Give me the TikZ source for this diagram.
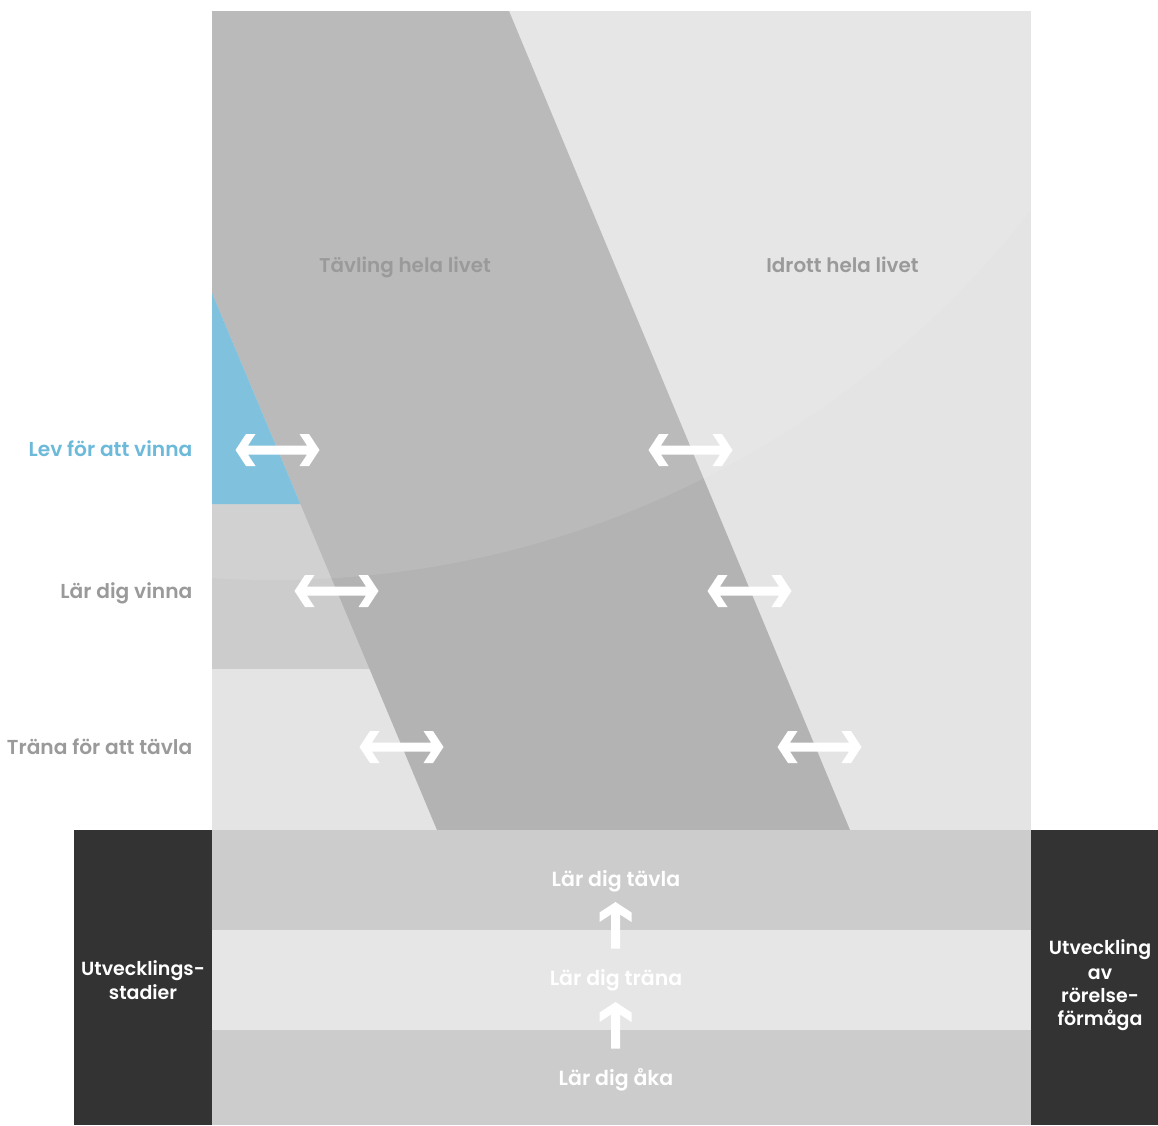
\documentclass[tikz,border=0pt]{standalone}
\usepackage{fontspec}
\setmainfont{Poppins}[UprightFont=* SemiBold, BoldFont=* Bold]

\definecolor{lightcol}{HTML}{E4E4E4}
\definecolor{greycol}{HTML}{CCCCCC}
\definecolor{bandcol}{HTML}{B3B3B3}
\definecolor{bluecol}{HTML}{80C2DE}
\definecolor{bluetext}{HTML}{6CB9DA}
\definecolor{labelgrey}{HTML}{9A9A9A}
\definecolor{rowdark}{HTML}{CCCCCC}
\definecolor{rowlight}{HTML}{E6E6E6}
\definecolor{darkbox}{HTML}{333333}

\newcommand\sidesize{\fontsize{20.2}{24}\selectfont}
\newcommand\titlesize{\fontsize{19.9}{24}\selectfont}
\newcommand\stepsize{\fontsize{20.5}{23}\selectfont}
\newcommand\boxsize{\fontsize{19}{23}\selectfont}

\begin{document}
\begin{tikzpicture}[x=1pt,y=-1pt,
  sidelabel/.style={anchor=base east, inner sep=0pt, text=labelgrey, font=\sidesize},
  titlelabel/.style={anchor=base, inner sep=0pt, text=labelgrey, font=\titlesize},
  steplabel/.style={anchor=base, inner sep=0pt, text=white, font=\stepsize},
  boxlabel/.style={anchor=base, inner sep=0pt, text=white, font=\boxsize},
  harrow/.pic={\fill[white] (-42,0) -- (-31.5,-16) -- (-22,-16) -- (-29.55,-4.5)
      -- (29.55,-4.5) -- (22,-16) -- (31.5,-16) -- (42,0) -- (31.5,16) -- (22,16)
      -- (29.55,4.5) -- (-29.55,4.5) -- (-22,16) -- (-31.5,16) -- cycle;},
  uparrow/.pic={\fill[white] (0,0) -- (16,10.5) -- (16,20) -- (4.5,12.45)
      -- (4.5,46.5) -- (-4.5,46.5) -- (-4.5,12.45) -- (-16,20) -- (-16,10.5) -- cycle;}
]
\useasboundingbox (0,0) rectangle (1158,1125);

% upper field: two pathways with the diagonal band between them
\begin{scope}
  \clip (212,11) rectangle (1031,830);
  \fill[lightcol] (212,11) rectangle (1031,830);
  \fill[greycol] (212,504) rectangle (520,669);
  \fill[bandcol] (93.8,11) -- (509,11) -- (850,830) -- (437,830) -- cycle;
  % soft lighter disc over the upper left
  \fill[white, opacity=0.1] (273,-381) circle[radius=961pt];
  \fill[bluecol] (212,293) -- (300.4,504) -- (212,504) -- cycle;
\end{scope}

% lower rows: the development stages
\fill[rowdark]  (212,830)  rectangle (1031,930);
\fill[rowlight] (212,930)  rectangle (1031,1030);
\fill[rowdark]  (212,1030) rectangle (1031,1125);
\fill[darkbox] (74,830) rectangle (212,1125);
\fill[darkbox] (1031,830) rectangle (1158,1125);

% two-way arrows across the band edges
\pic at (277.5,450) {harrow};
\pic at (690.5,450) {harrow};
\pic at (336.5,591) {harrow};
\pic at (749.5,591) {harrow};
\pic at (401.5,747) {harrow};
\pic at (819.5,747) {harrow};

% upward arrows between the stages
\pic at (615.5,902) {uparrow};
\pic at (615.5,1002) {uparrow};

% labels
\node[titlelabel] (tavling) at (405,272) {Tävling hela livet};
\node[titlelabel] (idrott) at (842.5,272) {Idrott hela livet};

\node[sidelabel, text=bluetext] (lev) at (192.5,456) {Lev för att vinna};
\node[sidelabel] (vinna) at (192.5,598) {Lär dig vinna};
\node[sidelabel] (trana) at (192.5,754) {Träna för att tävla};

\node[steplabel] (tavla) at (616,886.7) {Lär dig tävla};
\node[steplabel] (tranastep) at (616,985) {Lär dig träna};
\node[steplabel] (aka) at (616,1085) {Lär dig åka};

\node[boxlabel] (stadA) at (143,975.7) {Utvecklings-};
\node[boxlabel] (stadB) at (143,999) {stadier};

\node[boxlabel] (formA) at (1100,954) {Utveckling};
\node[boxlabel] (formB) at (1100,979) {av};
\node[boxlabel] (formC) at (1100,1002.7) {rörelse-};
\node[boxlabel] (formD) at (1100,1025) {förmåga};
\end{tikzpicture}
\end{document}
